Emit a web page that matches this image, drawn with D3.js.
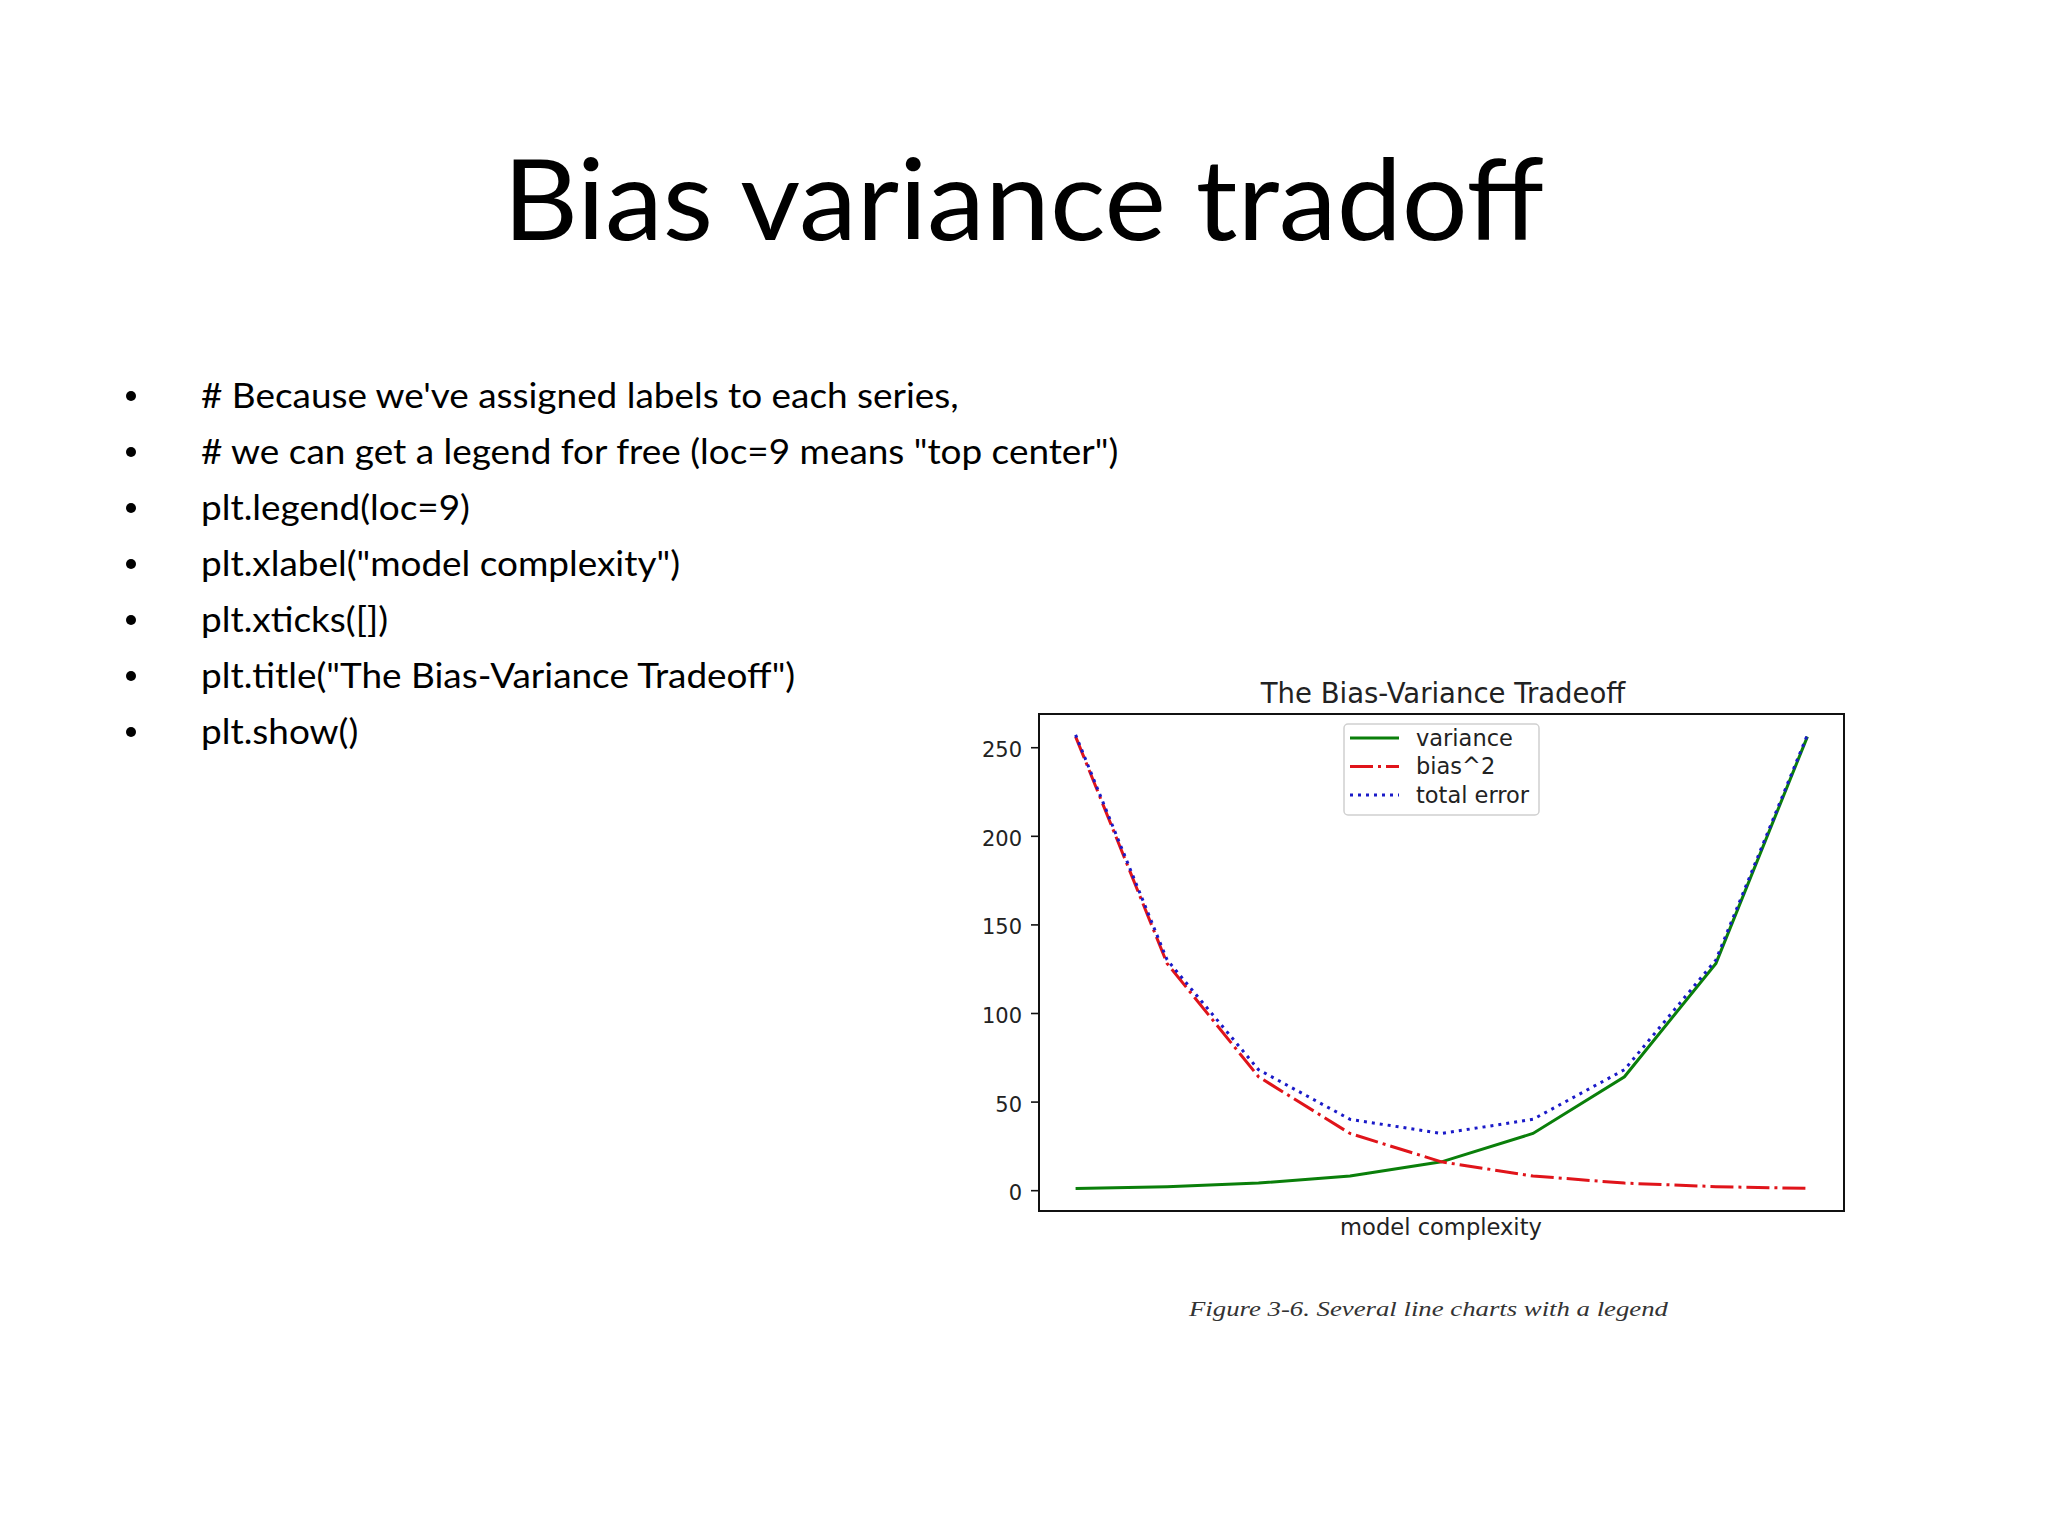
<!DOCTYPE html>
<html>
<head>
<meta charset="utf-8">
<script src="https://cdn.jsdelivr.net/npm/d3@7"></script>
<style>
  html, body { margin: 0; padding: 0; background: #fff; }
  svg { display: block; }
</style>
</head>
<body>
<div class="slide"></div>
<script>
// slide text
const slideTitle = "Bias variance tradoff"
const bullets = [
  "# Because we've assigned labels to each series,",
  "# we can get a legend for free (loc=9 means \"top center\")",
  "plt.legend(loc=9)",
  "plt.xlabel(\"model complexity\")",
  "plt.xticks([])",
  "plt.title(\"The Bias-Variance Tradeoff\")",
  "plt.show()"
]

// chart data
const complexity = [0, 1, 2, 3, 4, 5, 6, 7, 8]
const variance = [1, 2, 4, 8, 16, 32, 64, 128, 256]
const biasSquared = [256, 128, 64, 32, 16, 8, 4, 2, 1]
const totalError = [257, 130, 68, 40, 32, 40, 68, 130, 257]
const seriesNames = ["variance", "bias^2", "total error"]
const yTicks = [0, 50, 100, 150, 200, 250]
const chartTitle = "The Bias-Variance Tradeoff"
const xLabel = "model complexity"
const caption = "Figure 3-6. Several line charts with a legend"

let width = 2048
let height = 1536

let svg = d3.select(".slide")
  .append("svg")
  .attr("width", width)
  .attr("height", height)

svg.append("rect")
  .attr("width", width)
  .attr("height", height)
  .style("fill", "#fff")

// slide title
svg.append("text")
  .attr("x", 503)
  .attr("y", 240)
  .attr("textLength", 1041)
  .attr("lengthAdjust", "spacingAndGlyphs")
  .style("font-family", "Lato, 'Open Sans', sans-serif")
  .style("font-size", "112px")
  .style("fill", "#000")
  .text(slideTitle)

// bullets
let bulletGroup = svg.append("g")

bulletGroup.selectAll("circle")
  .data(bullets)
  .enter()
  .append("circle")
  .attr("cx", 131)
  .attr("cy", (d, i) => 396 + i * 56)
  .attr("r", 5)
  .style("fill", "#000")

let lineGroup = bulletGroup.append("g")
  .attr("transform", "translate(201,0)")

let lines = lineGroup.selectAll("text")
  .data(bullets)
  .enter()
  .append("text")
  .attr("x", 0)
  .attr("y", (d, i) => 408 + i * 56)
  .style("font-family", "Lato, 'Open Sans', sans-serif")
  .style("font-size", "35.5px")
  .style("fill", "#000")
  .text(d => d)

// squeeze Lato to the narrower slide font
let firstLen = lines.node().getComputedTextLength()
lineGroup.attr("transform", "translate(201,0) scale(" + (758 / firstLen) + ",1)")

// chart
let x = d3.scaleLinear()
  .domain([-0.4, 8.4])
  .range([1039, 1844])

let y = d3.scaleLinear()
  .domain([-11.75, 268.75])
  .range([1211, 714])

let chart = svg.append("g")
  .style("font-family", "'DejaVu Sans', sans-serif")

let yAxis = chart.append("g")
  .attr("transform", "translate(1039,0)")
  .call(d3.axisLeft(y).tickValues(yTicks).tickSize(8).tickPadding(9))

yAxis.select(".domain").remove()
yAxis.selectAll(".tick line").style("stroke", "#111").style("stroke-width", 1.6)
yAxis.selectAll(".tick text")
  .attr("dy", "0.45em")
  .style("font-size", "21px")
  .style("fill", "#222")
  .style("font-family", "'DejaVu Sans', sans-serif")

let line = d3.line()
  .x((d, i) => x(complexity[i]))
  .y(d => y(d))

chart.append("path")
  .datum(variance)
  .attr("d", line)
  .style("fill", "none")
  .style("stroke", "#0a7f0a")
  .style("stroke-width", 3)

chart.append("path")
  .datum(biasSquared)
  .attr("d", line)
  .style("fill", "none")
  .style("stroke", "#e0141a")
  .style("stroke-width", 3)
  .style("stroke-dasharray", "23,5,3,5")

chart.append("path")
  .datum(totalError)
  .attr("d", line)
  .style("fill", "none")
  .style("stroke", "#1a1ac8")
  .style("stroke-width", 3)
  .style("stroke-dasharray", "3,5")

// frame
chart.append("rect")
  .attr("x", x.range()[0])
  .attr("y", y.range()[1])
  .attr("width", x.range()[1] - x.range()[0])
  .attr("height", y.range()[0] - y.range()[1])
  .style("fill", "none")
  .style("stroke", "#111")
  .style("stroke-width", 2)

chart.append("text")
  .attr("x", 1443)
  .attr("y", 703)
  .attr("text-anchor", "middle")
  .style("font-size", "27.5px")
  .style("fill", "#222")
  .text(chartTitle)

chart.append("text")
  .attr("x", 1441)
  .attr("y", 1235)
  .attr("text-anchor", "middle")
  .style("font-size", "22.6px")
  .style("fill", "#222")
  .text(xLabel)

// legend
let legend = chart.append("g")

legend.append("rect")
  .attr("x", 1344)
  .attr("y", 724)
  .attr("width", 195)
  .attr("height", 91)
  .attr("rx", 4)
  .style("fill", "#fff")
  .style("fill-opacity", 0.8)
  .style("stroke", "#d0d0d0")
  .style("stroke-width", 1.5)

let legendStyles = [
  { color: "#0a7f0a", dash: null },
  { color: "#e0141a", dash: "23,5,3,5" },
  { color: "#1a1ac8", dash: "3,5" }
]

let rows = legend.selectAll(".row")
  .data(seriesNames)
  .enter()
  .append("g")
  .attr("class", "row")
  .attr("transform", (d, i) => "translate(0," + (738 + i * 28.5) + ")")

rows.append("line")
  .attr("x1", 1350)
  .attr("x2", 1399)
  .style("stroke", (d, i) => legendStyles[i].color)
  .style("stroke-width", 3)
  .style("stroke-dasharray", (d, i) => legendStyles[i].dash)

rows.append("text")
  .attr("x", 1416)
  .attr("dy", "0.35em")
  .style("font-size", "22.5px")
  .style("fill", "#222")
  .text(d => d)

// caption under the figure
svg.append("text")
  .attr("x", 1189)
  .attr("y", 1316)
  .attr("textLength", 479)
  .attr("lengthAdjust", "spacingAndGlyphs")
  .style("font-family", "'Liberation Serif', 'DejaVu Serif', serif")
  .style("font-style", "italic")
  .style("font-size", "21px")
  .style("fill", "#333")
  .text(caption)
</script>
</body>
</html>
